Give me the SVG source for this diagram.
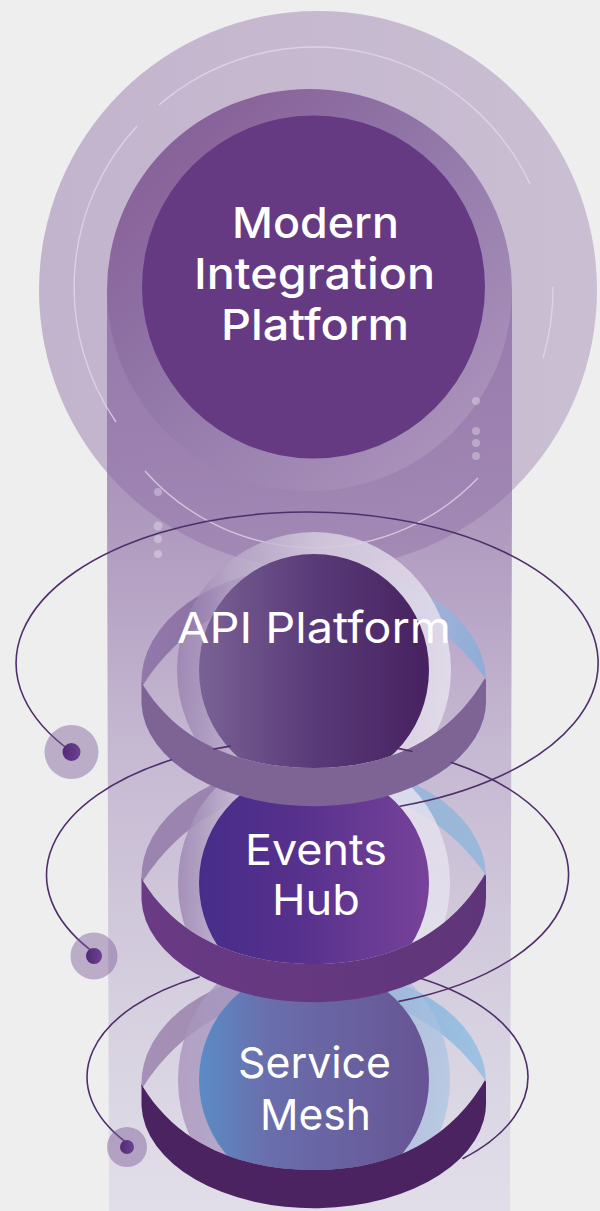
<svg xmlns="http://www.w3.org/2000/svg" width="600" height="1211" viewBox="0 0 600 1211">
<style>
.t{font-family:Inter,"Open Sans","Liberation Sans",sans-serif;font-size:43px;fill:#fff;font-weight:400}
.t5{font-weight:500}
.arc{fill:none;stroke:#e4d9ee;stroke-width:1.4;opacity:.75}
.dots{fill:#fff;opacity:.3}
.orbit{fill:none;stroke:#4f2f6b;stroke-width:1.6;stroke-linecap:round}
.bhalo{fill:#7d5c98;opacity:.45}
</style>
<defs>
<linearGradient id="col" x1="0" y1="290" x2="0" y2="1211" gradientUnits="userSpaceOnUse">
<stop offset="0" stop-color="#9f84b2"/><stop offset=".23" stop-color="#ad97bd"/><stop offset=".5" stop-color="#c6b9d2"/><stop offset=".77" stop-color="#d5cfdf"/><stop offset="1" stop-color="#e2dee9"/>
</linearGradient>
<linearGradient id="big" x1="0" x2="1" y1="0" y2="0"><stop offset="0" stop-color="#8a6aa2" stop-opacity=".44"/><stop offset="1" stop-color="#8a6aa2" stop-opacity=".36"/></linearGradient>
<linearGradient id="ring" gradientUnits="userSpaceOnUse" x1="130" y1="150" x2="420" y2="470"><stop offset="0" stop-color="#875f98"/><stop offset=".5" stop-color="#937aaa"/><stop offset="1" stop-color="#a991ba"/></linearGradient>
<linearGradient id="s1"><stop offset="0" stop-color="#7a6295"/><stop offset=".5" stop-color="#593a78"/><stop offset="1" stop-color="#472160"/></linearGradient>
<linearGradient id="s2"><stop offset="0" stop-color="#472d8a"/><stop offset=".4" stop-color="#55308c"/><stop offset="1" stop-color="#77429a"/></linearGradient>
<linearGradient id="s3"><stop offset="0" stop-color="#5a8cc6"/><stop offset=".3" stop-color="#6a6eac"/><stop offset="1" stop-color="#675494"/></linearGradient>
<linearGradient id="h1"><stop offset="0" stop-color="#8f75a8" stop-opacity=".7"/><stop offset=".2" stop-color="#b9aac9" stop-opacity=".85"/><stop offset=".5" stop-color="#d2c8dd"/><stop offset="1" stop-color="#e4deeb"/></linearGradient>
<linearGradient id="h2"><stop offset="0" stop-color="#9a83b0" stop-opacity=".8"/><stop offset=".2" stop-color="#c6bad4" stop-opacity=".9"/><stop offset=".7" stop-color="#e8e4f0" stop-opacity=".85"/><stop offset="1" stop-color="#e8e4f0" stop-opacity=".75"/></linearGradient>
<linearGradient id="h3"><stop offset="0" stop-color="#a994bc" stop-opacity=".8"/><stop offset=".5" stop-color="#a7a9cf" stop-opacity=".8"/><stop offset="1" stop-color="#a9c4e2" stop-opacity=".7"/></linearGradient>
<linearGradient id="c1"><stop offset="0" stop-color="#9279aa"/><stop offset=".3" stop-color="#8a6ea3"/><stop offset=".75" stop-color="#a8b4dc"/><stop offset="1" stop-color="#8fadd6"/></linearGradient>
<linearGradient id="c2"><stop offset="0" stop-color="#9b84b0"/><stop offset=".35" stop-color="#9b84b0"/><stop offset=".75" stop-color="#9ab6d8"/><stop offset="1" stop-color="#9ab8da"/></linearGradient>
<linearGradient id="c3"><stop offset="0" stop-color="#a590b7"/><stop offset=".35" stop-color="#a08aae"/><stop offset=".75" stop-color="#8fb6de"/><stop offset="1" stop-color="#9fc2e1"/></linearGradient>
<linearGradient id="dot"><stop offset="0" stop-color="#4f2a78"/><stop offset="1" stop-color="#70408f"/></linearGradient>
<linearGradient id="b2"><stop offset="0" stop-color="#6a3a85"/><stop offset="1" stop-color="#5f3579"/></linearGradient>
<clipPath id="above"><path d="M143 685C180 745 245 768 314 768C385 768 448 742 485 678V400H143Z"/></clipPath>
<path id="cres" d="M141.5 685A172 115 0 0 1 486 678L485 678A205 205 0 0 0 143 685Z"/>
<path id="band" d="M141.5 682L143 685C180 745 245 768 314 768C385 768 448 742 485 678L486 680V698A172 105 0 0 1 141.5 704Z"/>
</defs>
<rect width="600" height="1211" fill="#eeeeee"/>
<path id="column" d="M107 290H512V500L510 1211H109L107 500Z" fill="url(#col)"/>
<g id="platform">
<circle cx="318" cy="290" r="279" fill="url(#big)"/>
<ellipse cx="309.5" cy="290" rx="202.5" ry="201" fill="url(#ring)"/>
<circle cx="313.5" cy="287" r="171.5" fill="#653a82"/>
<path class="arc" d="M159 105A238 238 0 0 1 530 184"/>
<path class="arc" d="M137 126A238 238 0 0 0 116 422"/>
<path class="arc" d="M553 287A238 238 0 0 1 543 358"/>
<path class="arc" d="M145 471A226 226 0 0 0 478 478"/>
<g class="dots">
<circle cx="476" cy="401" r="4"/><circle cx="476" cy="431" r="4"/><circle cx="476" cy="443" r="4"/><circle cx="476" cy="456" r="4"/>
<circle cx="158" cy="492" r="4"/><circle cx="158" cy="526" r="4.5"/><circle cx="158" cy="539" r="4"/><circle cx="158" cy="554" r="4"/>
</g>
<text class="t t5" x="232" y="238" textLength="167" lengthAdjust="spacingAndGlyphs">Modern</text>
<text class="t t5" x="194" y="289" textLength="241" lengthAdjust="spacingAndGlyphs">Integration</text>
<text class="t t5" x="221" y="340" textLength="188" lengthAdjust="spacingAndGlyphs">Platform</text>
</g>
<g id="service-mesh">
<g transform="translate(0 402)"><use href="#cres" fill="url(#c3)"/>
<g clip-path="url(#above)"><ellipse cx="314" cy="678" rx="136" ry="138" fill="url(#h3)"/><ellipse cx="314" cy="678" rx="115" ry="115" fill="url(#s3)"/></g>
<use href="#band" fill="#4a2360"/></g>
<text class="t" x="238" y="1078" textLength="153" lengthAdjust="spacingAndGlyphs">Service</text>
<text class="t" x="260" y="1130" textLength="111" lengthAdjust="spacingAndGlyphs">Mesh</text>
</g>
<g id="events-hub">
<g transform="translate(0 196)"><use href="#cres" fill="url(#c2)"/>
<g clip-path="url(#above)"><ellipse cx="314" cy="687" rx="136" ry="138" fill="url(#h2)"/><ellipse cx="314" cy="687" rx="115" ry="115" fill="url(#s2)"/></g>
<use href="#band" fill="url(#b2)"/></g>
<text class="t" x="245" y="865" textLength="142" lengthAdjust="spacingAndGlyphs">Events</text>
<text class="t" x="272" y="915" textLength="88" lengthAdjust="spacingAndGlyphs">Hub</text>
</g>
<g id="api-platform">
<use href="#cres" fill="url(#c1)"/>
<g clip-path="url(#above)"><ellipse cx="314" cy="670" rx="137" ry="138" fill="url(#h1)" fill-opacity=".9"/><ellipse cx="314" cy="670" rx="115" ry="116" fill="url(#s1)"/></g>
<use href="#band" fill="#7e6395"/>
<text class="t" x="177" y="643" textLength="274" lengthAdjust="spacingAndGlyphs">API Platform</text>
</g>
<g id="connectors">
<path class="orbit" d="M71.5 751.7A291 151 0 1 1 400 806.2"/>
<path class="orbit" d="M90 949.6A261 135 0 0 1 171.5 759.8"/>
<path class="orbit" d="M214 749A261 135 0 0 1 230 746.1"/>
<path class="orbit" d="M398 748.4A261 135 0 0 1 412 751.3"/>
<path class="orbit" d="M451.6 762.4A261 135 0 0 1 399 1001.4"/>
<path class="orbit" d="M125 1141.5A220.5 115 0 0 1 199 976.9"/>
<path class="orbit" d="M421 978.4A220.5 115 0 0 1 463 1158.5"/>
</g>
<g id="orbit-dot-1"><circle class="bhalo" cx="71.5" cy="752" r="27"/><circle cx="71.5" cy="752" r="9" fill="url(#dot)"/></g>
<g id="orbit-dot-2"><circle class="bhalo" cx="94" cy="956" r="23.5"/><circle cx="94" cy="956" r="8" fill="url(#dot)"/></g>
<g id="orbit-dot-3"><circle class="bhalo" cx="127" cy="1147" r="20"/><circle cx="127" cy="1147" r="7" fill="url(#dot)"/></g>
</svg>
